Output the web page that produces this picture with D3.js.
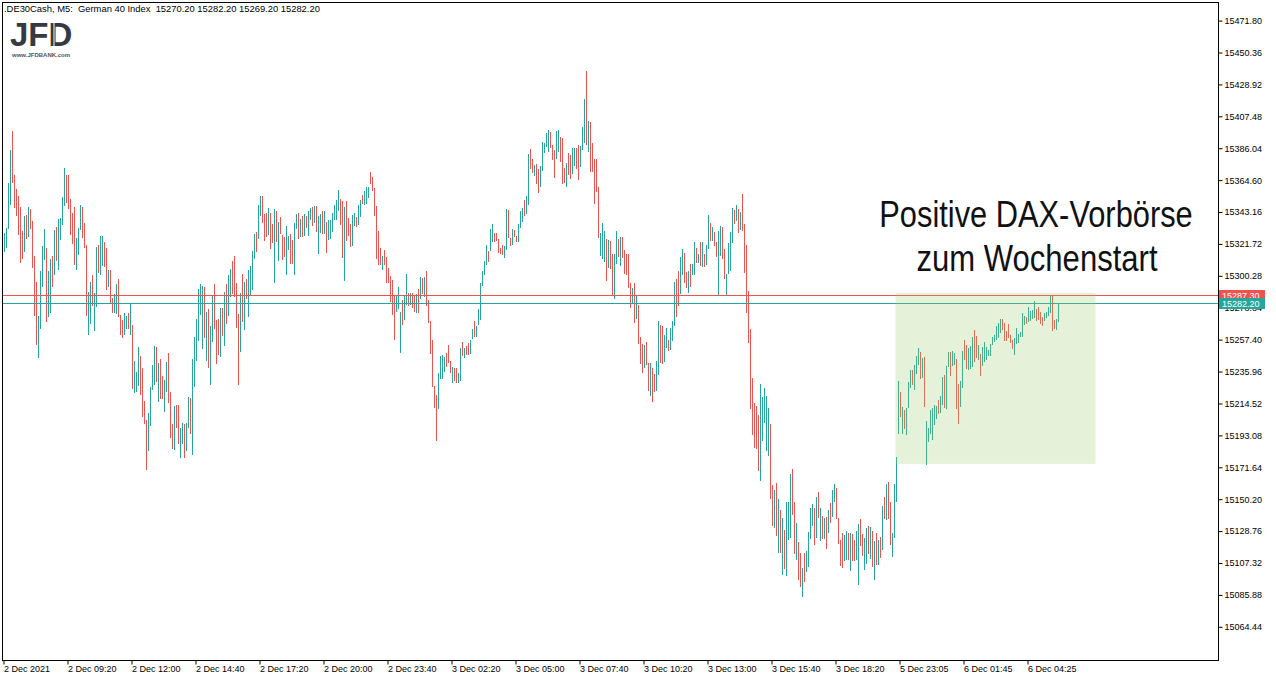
<!DOCTYPE html>
<html>
<head>
<meta charset="utf-8">
<script src="https://cdn.jsdelivr.net/npm/d3@7"></script>
<style>
    body { margin: 0; background: #fff; }
    svg { display: block; }
    text { font-family: "Liberation Sans", Arial, sans-serif; }
</style>
</head>
<body>
<svg id="chart"></svg>
<script>
// M5 bars, DE30Cash, 2 Dec 2021 - 6 Dec 2021 (high / low per bar)
var highs = [
    15329.1, 15332.4, 15362.9, 15384.8, 15397.6, 15368.0, 15358.6, 15353.9, 15346.5, 15330.6,
    15340.7, 15341.2, 15346.5, 15345.2, 15337.1, 15313.6, 15296.2, 15273.6, 15303.6, 15320.3,
    15332.0, 15319.0, 15303.6, 15311.8, 15313.6, 15331.1, 15333.1, 15338.5, 15339.2, 15353.3,
    15372.7, 15368.0, 15368.0, 15351.9, 15342.7, 15346.5, 15325.7, 15332.4, 15347.9, 15346.5,
    15335.8, 15320.8, 15289.4, 15296.2, 15300.9, 15288.6, 15319.7, 15320.8, 15327.1, 15327.1,
    15323.0, 15319.0, 15304.2, 15304.2, 15285.6, 15288.1, 15294.8, 15298.2, 15274.0, 15270.6,
    15275.3, 15273.3, 15275.6, 15282.1, 15267.3, 15243.3, 15235.7, 15252.5, 15246.5, 15238.6,
    15216.2, 15203.5, 15208.2, 15225.9, 15240.4, 15253.2, 15252.5, 15242.0, 15244.4, 15233.2,
    15230.6, 15242.4, 15248.5, 15222.3, 15201.0, 15213.1, 15213.5, 15213.8, 15198.1, 15201.7,
    15201.0, 15201.7, 15218.9, 15218.5, 15244.4, 15259.2, 15271.5, 15291.5, 15294.8, 15293.5,
    15292.8, 15276.2, 15278.0, 15266.6, 15287.0, 15294.8, 15270.4, 15271.3, 15278.7, 15278.7,
    15289.7, 15294.8, 15301.1, 15304.9, 15310.3, 15313.8, 15295.7, 15274.7, 15289.0, 15301.8,
    15296.4, 15298.2, 15304.4, 15307.1, 15317.0, 15328.4, 15329.5, 15347.9, 15353.9, 15353.9,
    15341.8, 15342.5, 15345.9, 15342.5, 15335.1, 15345.2, 15343.8, 15336.5, 15339.8, 15327.7,
    15326.4, 15334.0, 15327.3, 15328.4, 15324.4, 15335.8, 15341.8, 15342.5, 15338.5, 15340.5,
    15341.8, 15340.5, 15343.8, 15345.9, 15346.5, 15347.2, 15347.2, 15340.5, 15341.8, 15343.8,
    15343.8, 15336.5, 15337.8, 15337.8, 15342.5, 15347.9, 15351.2, 15358.0, 15351.9, 15350.6,
    15346.5, 15350.6, 15339.1, 15335.1, 15341.2, 15342.5, 15339.8, 15347.9, 15351.2, 15354.6,
    15357.3, 15360.0, 15360.0, 15370.0, 15366.7, 15359.3, 15347.2, 15330.4, 15319.2, 15313.6,
    15317.7, 15313.2, 15305.6, 15300.2, 15297.5, 15287.4, 15287.4, 15292.8, 15276.0, 15284.1,
    15287.4, 15301.5, 15288.8, 15288.8, 15288.8, 15287.4, 15288.1, 15291.5, 15299.5, 15299.1,
    15299.7, 15303.6, 15284.1, 15270.0, 15257.2, 15226.5, 15220.5, 15235.3, 15246.5, 15247.1,
    15245.8, 15248.5, 15253.8, 15243.1, 15239.1, 15238.6, 15238.6, 15235.3, 15251.8, 15255.9,
    15251.8, 15253.2, 15255.2, 15257.0, 15264.6, 15270.0, 15266.6, 15278.0, 15295.5, 15303.6,
    15310.3, 15321.0, 15317.2, 15332.0, 15335.1, 15329.3, 15329.3, 15325.0, 15319.0, 15321.2,
    15320.3, 15345.2, 15344.5, 15325.7, 15331.8, 15331.1, 15327.1, 15335.1, 15343.9, 15345.9,
    15351.2, 15353.9, 15382.4, 15385.5, 15378.8, 15374.7, 15375.4, 15372.3, 15374.3, 15390.4,
    15389.5, 15396.2, 15398.3, 15396.9, 15388.2, 15384.8, 15397.8, 15398.3, 15393.8, 15393.1,
    15373.0, 15376.3, 15383.0, 15381.5, 15386.2, 15386.4, 15386.4, 15388.4, 15387.3, 15400.5,
    15419.3, 15438.1, 15404.5, 15403.6, 15389.7, 15378.8, 15379.0, 15360.0, 15329.1, 15336.0,
    15330.4, 15325.3, 15324.1, 15323.9, 15315.0, 15315.0, 15330.6, 15325.3, 15326.6, 15326.2,
    15317.9, 15315.0, 15315.0, 15295.7, 15292.4, 15295.3, 15287.4, 15280.5, 15259.4, 15254.3,
    15253.6, 15255.9, 15242.0, 15242.0, 15238.4, 15234.6, 15243.1, 15270.0, 15267.5, 15266.8,
    15260.6, 15265.3, 15257.4, 15265.3, 15270.0, 15296.4, 15298.4, 15303.6, 15313.2, 15318.6,
    15315.4, 15303.1, 15303.8, 15308.3, 15308.5, 15323.3, 15319.2, 15315.0, 15323.3, 15322.8,
    15315.2, 15321.2, 15341.2, 15335.8, 15333.1, 15330.0, 15323.3, 15330.4, 15333.8, 15333.1,
    15318.3, 15301.8, 15322.4, 15329.7, 15345.9, 15344.7, 15347.9, 15345.2, 15343.2, 15355.3,
    15335.1, 15321.0, 15290.3, 15264.6, 15231.7, 15214.9, 15213.1, 15206.8, 15227.7, 15218.9,
    15225.0, 15219.8, 15211.5, 15200.8, 15159.8, 15156.7, 15161.2, 15150.6, 15143.0, 15137.4,
    15129.6, 15148.4, 15148.6, 15166.8, 15170.8, 15148.6, 15134.5, 15121.5, 15113.7, 15103.8,
    15114.1, 15115.7, 15128.2, 15144.6, 15147.1, 15144.1, 15151.8, 15155.3, 15144.1, 15139.0,
    15137.4, 15138.1, 15143.0, 15147.7, 15156.7, 15160.5, 15158.0, 15137.4, 15123.1, 15127.6,
    15126.2, 15128.9, 15127.3, 15127.8, 15126.9, 15123.1, 15128.5, 15133.4, 15137.2, 15126.9,
    15124.0, 15130.5, 15132.3, 15131.6, 15129.1, 15122.2, 15127.8, 15122.6, 15125.1, 15145.5,
    15151.8, 15160.5, 15161.8, 15148.2, 15127.6, 15160.5, 15178.8, 15229.7, 15222.3, 15212.2,
    15210.2, 15211.5, 15229.0, 15237.3, 15236.8, 15240.4, 15246.2, 15251.8, 15249.1, 15245.3,
    15245.6, 15202.4, 15198.1, 15210.2, 15211.5, 15213.5, 15212.9, 15216.9, 15219.6, 15232.4,
    15233.7, 15239.7, 15249.1, 15249.1, 15249.8, 15248.5, 15244.7, 15227.9, 15229.7, 15249.8,
    15257.2, 15253.8, 15251.8, 15253.2, 15259.2, 15263.9, 15260.1, 15253.8, 15248.0, 15252.7,
    15255.9, 15252.5, 15250.5, 15254.5, 15259.4, 15260.6, 15266.6, 15268.8, 15271.3, 15271.5,
    15268.6, 15263.2, 15268.2, 15260.8, 15257.2, 15258.5, 15265.3, 15261.2, 15262.4, 15275.3,
    15273.5, 15272.7, 15279.4, 15276.9, 15277.6, 15283.6, 15277.8, 15279.4, 15276.2, 15272.7,
    15275.6, 15276.2, 15279.4, 15286.8, 15287.2, 15270.9, 15271.1, 15282.2
];
var lows = [
    15316.5, 15319.2, 15332.0, 15348.1, 15362.9, 15346.1, 15340.7, 15327.7, 15309.2, 15311.8,
    15316.5, 15324.8, 15326.6, 15332.0, 15305.8, 15273.6, 15254.1, 15245.3, 15264.8, 15293.0,
    15310.9, 15269.5, 15272.9, 15275.1, 15293.0, 15300.9, 15310.5, 15304.4, 15324.6, 15334.7,
    15347.4, 15349.5, 15345.2, 15328.0, 15321.9, 15307.8, 15304.4, 15314.3, 15331.1, 15325.7,
    15319.0, 15273.6, 15260.8, 15268.2, 15280.3, 15263.5, 15279.6, 15302.0, 15300.9, 15307.1,
    15306.2, 15291.0, 15293.0, 15282.1, 15275.1, 15275.6, 15274.7, 15272.9, 15260.8, 15258.8,
    15260.8, 15264.6, 15264.8, 15260.8, 15224.5, 15221.8, 15222.5, 15226.5, 15220.5, 15205.7,
    15200.6, 15170.1, 15182.9, 15199.7, 15223.4, 15227.0, 15229.2, 15215.8, 15217.8, 15217.8,
    15209.1, 15222.5, 15215.1, 15191.6, 15184.2, 15183.5, 15197.7, 15187.6, 15178.2, 15187.1,
    15178.2, 15182.9, 15198.3, 15194.3, 15180.2, 15225.9, 15243.3, 15256.8, 15274.2, 15251.4,
    15258.8, 15243.3, 15238.6, 15227.2, 15256.1, 15264.8, 15241.3, 15247.4, 15246.0, 15260.1,
    15253.4, 15268.2, 15273.5, 15285.9, 15288.3, 15286.3, 15265.5, 15227.2, 15249.4, 15269.5,
    15264.1, 15285.0, 15272.9, 15287.4, 15291.0, 15311.8, 15316.5, 15324.8, 15340.7, 15336.0,
    15323.9, 15326.4, 15327.5, 15318.5, 15322.4, 15295.3, 15322.8, 15310.5, 15328.4, 15311.2,
    15313.2, 15301.1, 15317.9, 15308.5, 15308.5, 15301.1, 15332.0, 15324.8, 15326.4, 15326.4,
    15326.8, 15332.2, 15327.3, 15337.8, 15333.8, 15335.8, 15330.0, 15315.2, 15329.1, 15328.4,
    15328.4, 15315.9, 15324.6, 15325.3, 15330.0, 15337.8, 15337.8, 15343.8, 15334.7, 15312.5,
    15297.1, 15323.9, 15327.1, 15319.9, 15320.6, 15333.8, 15333.3, 15334.4, 15340.0, 15348.6,
    15347.9, 15348.6, 15352.6, 15362.0, 15357.3, 15340.5, 15311.8, 15307.8, 15307.8, 15304.4,
    15307.8, 15295.5, 15295.5, 15282.7, 15274.2, 15257.4, 15276.2, 15278.3, 15248.7, 15267.5,
    15270.9, 15280.9, 15280.3, 15280.9, 15278.9, 15275.8, 15275.6, 15275.6, 15284.7, 15288.1,
    15286.3, 15280.3, 15268.8, 15247.8, 15225.9, 15211.8, 15189.6, 15210.6, 15231.2, 15231.2,
    15235.9, 15239.3, 15242.0, 15235.3, 15228.5, 15229.9, 15228.5, 15228.5, 15229.9, 15246.5,
    15245.3, 15247.4, 15247.4, 15248.0, 15258.1, 15259.4, 15259.4, 15267.5, 15270.9, 15293.7,
    15300.6, 15307.8, 15309.8, 15317.2, 15323.0, 15322.8, 15323.7, 15315.9, 15314.7, 15314.1,
    15312.5, 15317.7, 15325.7, 15320.3, 15321.0, 15326.4, 15322.8, 15322.8, 15332.7, 15336.7,
    15340.3, 15341.8, 15347.9, 15372.3, 15369.6, 15367.6, 15362.2, 15355.9, 15360.2, 15370.9,
    15383.0, 15387.1, 15383.7, 15386.2, 15378.3, 15366.2, 15379.0, 15383.7, 15377.0, 15362.2,
    15362.9, 15360.0, 15367.8, 15365.3, 15368.9, 15374.3, 15372.3, 15364.9, 15373.2, 15385.0,
    15389.3, 15388.2, 15383.7, 15370.3, 15370.3, 15348.6, 15356.8, 15325.5, 15313.9, 15311.6,
    15309.8, 15297.1, 15305.3, 15304.9, 15287.4, 15285.0, 15308.0, 15313.2, 15307.1, 15312.1,
    15301.3, 15300.9, 15291.9, 15278.9, 15282.3, 15268.8, 15271.5, 15254.3, 15241.3, 15235.3,
    15238.4, 15240.4, 15223.2, 15219.8, 15215.8, 15222.5, 15223.2, 15233.5, 15242.0, 15241.3,
    15242.7, 15251.6, 15250.0, 15250.5, 15256.5, 15266.8, 15272.9, 15280.0, 15288.3, 15300.9,
    15295.3, 15291.9, 15288.8, 15292.6, 15300.9, 15300.9, 15309.1, 15309.1, 15307.1, 15306.2,
    15306.2, 15307.4, 15318.1, 15323.9, 15323.9, 15320.6, 15313.2, 15287.2, 15313.9, 15311.8,
    15298.4, 15287.4, 15301.5, 15303.8, 15322.6, 15335.3, 15337.1, 15329.3, 15331.3, 15330.6,
    15302.4, 15275.6, 15255.4, 15211.1, 15193.6, 15184.7, 15184.0, 15168.8, 15162.7, 15189.6,
    15201.7, 15182.9, 15179.1, 15150.2, 15132.5, 15130.5, 15125.3, 15113.9, 15114.1, 15099.4,
    15103.4, 15098.7, 15122.6, 15124.0, 15139.4, 15113.2, 15109.0, 15095.6, 15090.9, 15084.8,
    15094.4, 15101.6, 15104.7, 15123.5, 15132.5, 15119.1, 15124.4, 15137.4, 15121.8, 15123.5,
    15123.5, 15116.8, 15127.3, 15134.5, 15137.9, 15148.6, 15136.8, 15120.4, 15105.2, 15103.8,
    15108.8, 15109.4, 15109.3, 15102.1, 15108.8, 15108.8, 15109.4, 15092.6, 15118.6, 15112.3,
    15102.7, 15106.8, 15113.2, 15110.3, 15104.5, 15096.0, 15106.1, 15106.1, 15110.6, 15116.2,
    15136.8, 15136.1, 15136.8, 15119.7, 15111.5, 15124.0, 15148.6, 15194.1, 15205.5, 15194.3,
    15197.4, 15193.6, 15211.5, 15225.0, 15227.0, 15223.6, 15234.1, 15240.4, 15231.0, 15231.5,
    15212.2, 15173.2, 15188.9, 15194.1, 15190.3, 15199.9, 15204.4, 15207.7, 15207.9, 15213.5,
    15211.3, 15211.1, 15239.3, 15233.2, 15239.5, 15240.4, 15211.1, 15201.0, 15212.4, 15224.7,
    15243.8, 15237.7, 15237.3, 15237.7, 15239.1, 15242.7, 15244.9, 15243.8, 15233.2, 15239.5,
    15242.7, 15244.0, 15246.2, 15246.5, 15253.8, 15255.6, 15257.0, 15258.3, 15261.7, 15263.9,
    15256.8, 15256.8, 15258.3, 15255.2, 15251.2, 15247.1, 15254.3, 15255.2, 15259.2, 15259.2,
    15267.5, 15268.2, 15269.5, 15270.2, 15271.3, 15272.0, 15270.2, 15270.6, 15268.2, 15266.4,
    15270.0, 15271.8, 15273.3, 15275.1, 15263.5, 15264.6, 15263.9, 15269.2
];
// u = bullish bar, d = bearish bar (10 bars per chunk)
var updown = [
    "uuuudddddd", "ududddduuu", "uduududuuu", "uddddduuud", "dduuduuduu",
    "ddudduuddd", "uududuuudd", "dduuuududd", "uudddudduu", "duuduuuuuu",
    "duduudddud", "uduuddddud", "uduuuuduud", "dduddududd", "duudduudud",
    "uduududuud", "uduuuuuudd", "uddduuduud", "uuuddddddu", "dddddduuud",
    "uududdudud", "udddddduuu", "udddudduud", "udduuduuuu", "uuduuddddd",
    "uuddudduuu", "duuddudduu", "uuuddduudd", "dudduudduu", "ududdddduu",
    "ududduudud", "ddddududdd", "uddudduudd", "uuduuudduu", "dduduududu",
    "duududduud", "duuuududud", "dddddddduu", "uuuddududu", "duuudduddu",
    "duuuududud", "ududuudddd", "uududduudd", "uududududu", "dudduuuudu",
    "duuuduuudu", "duuuuuuduu", "duuduudduu", "dduuuddudu", "uuuuuuuuud",
    "ddddduuuuu", "uduuuudddd", "uuuudduu"
].join("");

var timeLabels = ["2 Dec 2021", "2 Dec 09:20", "2 Dec 12:00", "2 Dec 14:40", "2 Dec 17:20",
    "2 Dec 20:00", "2 Dec 23:40", "3 Dec 02:20", "3 Dec 05:00", "3 Dec 07:40", "3 Dec 10:20",
    "3 Dec 13:00", "3 Dec 15:40", "3 Dec 18:20", "5 Dec 23:05", "6 Dec 01:45", "6 Dec 04:25"];
var barsPerLabel = 32;

var priceTicks = [15471.80, 15450.36, 15428.92, 15407.48, 15386.04, 15364.60, 15343.16, 15321.72,
    15300.28, 15278.84, 15257.40, 15235.96, 15214.52, 15193.08, 15171.64, 15150.20, 15128.76,
    15107.32, 15085.88, 15064.44];

var askPrice = 15287.30,
    bidPrice = 15282.20;
var lastBar = [15270.20, 15282.20, 15269.20, 15282.20];   // O H L C

// highlighted pre-market zone (bar index range, price range)
var zone = {from: 445.5, to: 545.5, top: 15288.8, bottom: 15173.9};
var noteLines = ["Positive DAX-Vorbörse", "zum Wochenstart"];

var width = 1276,
    height = 681;
var plot = {left: 2, top: 2, right: 1218, bottom: 660};
var visibleBars = 607;
var upColor = "#26a69a",
    downColor = "#ef5350";

var svg = d3.select("#chart")
    .attr("width", width)
    .attr("height", height);

var xScale = d3.scaleLinear()
    .domain([0, visibleBars])
    .range([plot.left + 2.5, plot.left + 2.5 + 2 * visibleBars]);

var yScale = d3.scaleLinear()
    .domain([priceTicks[priceTicks.length - 1], priceTicks[0]])
    .range([626.8, 20.6]);

var bars = highs.map(function (h, i) {
    return {i: i, high: h, low: lows[i], up: updown.charAt(i) === "u"};
});

/** bars **/
svg.append("g")
    .attr("class", "bars")
    .selectAll(".bar")
    .data(bars)
    .enter()
    .append("rect")
    .attr("class", "bar")
    .attr("x", function (d) { return xScale(d.i) - 0.5; })
    .attr("width", 1)
    .attr("y", function (d) { return yScale(d.high); })
    .attr("height", function (d) { return Math.max(1, yScale(d.low) - yScale(d.high)); })
    .attr("shape-rendering", "crispEdges")
    .attr("fill", function (d) { return d.up ? upColor : downColor; });

/** ask / bid lines **/
svg.append("line")
    .attr("x1", plot.left).attr("x2", plot.right)
    .attr("y1", Math.round(yScale(askPrice)) + 0.5).attr("y2", Math.round(yScale(askPrice)) + 0.5)
    .attr("stroke", downColor).attr("stroke-width", 1);
svg.append("line")
    .attr("x1", plot.left).attr("x2", plot.right)
    .attr("y1", Math.round(yScale(bidPrice)) + 0.5).attr("y2", Math.round(yScale(bidPrice)) + 0.5)
    .attr("stroke", upColor).attr("stroke-width", 1);

/** zone **/
svg.append("rect")
    .attr("x", xScale(zone.from))
    .attr("y", yScale(zone.top))
    .attr("width", xScale(zone.to) - xScale(zone.from))
    .attr("height", yScale(zone.bottom) - yScale(zone.top))
    .attr("fill", "rgb(151,203,103)")
    .attr("fill-opacity", 0.25);

/** frame **/
svg.append("rect")
    .attr("x", plot.left + 0.5)
    .attr("y", plot.top + 0.5)
    .attr("width", plot.right - plot.left)
    .attr("height", plot.bottom - plot.top)
    .attr("fill", "none")
    .attr("stroke", "#000")
    .attr("stroke-width", 1);

/** Axis **/
var yAxis = svg.append("g")
    .attr("transform", "translate(" + (plot.right + 0.5) + ",0)")
    .call(d3.axisRight(yScale)
        .tickValues(priceTicks)
        .tickSize(4)
        .tickSizeOuter(0)
        .tickFormat(d3.format(".2f")));
yAxis.select(".domain").remove();
yAxis.selectAll("line").attr("stroke", "#000");
yAxis.selectAll("text")
    .attr("x", 6)
    .attr("fill", "#000")
    .style("font-size", "9px")
    .style("font-family", "\"Liberation Sans\", Arial, sans-serif");

var xAxis = svg.append("g")
    .attr("transform", "translate(-1," + (plot.bottom + 0.5) + ")")
    .call(d3.axisBottom(xScale)
        .tickValues(timeLabels.map(function (d, i) { return i * barsPerLabel; }))
        .tickSize(4)
        .tickSizeOuter(0)
        .tickFormat(function (d, i) { return timeLabels[i]; }));
xAxis.select(".domain").remove();
xAxis.selectAll("line").attr("stroke", "#000");
xAxis.selectAll("text")
    .attr("y", 5)
    .attr("x", 0)
    .style("text-anchor", "start")
    .attr("fill", "#000")
    .style("font-size", "9px")
    .style("font-family", "\"Liberation Sans\", Arial, sans-serif");

/** price tags **/
function priceTag(price, color) {
    var y = yScale(price);
    svg.append("rect")
        .attr("x", plot.right + 1)
        .attr("y", Math.round(y) - 5)
        .attr("width", 46)
        .attr("height", 11)
        .attr("fill", color);
    svg.append("text")
        .attr("x", plot.right + 4)
        .attr("y", Math.round(y) + 4)
        .attr("fill", "#fff")
        .style("font-size", "9px")
        .text(price.toFixed(2));
}
priceTag(askPrice, downColor);
priceTag(bidPrice, upColor);

/** header **/
svg.append("text")
    .attr("x", 4)
    .attr("y", 12)
    .style("font-size", "9.4px")
    .style("white-space", "pre")
    .attr("fill", "#000")
    .text(".DE30Cash, M5:  German 40 Index  " + lastBar.map(function (d) { return d.toFixed(2); }).join(" "));

/** logo **/
svg.append("text")
    .attr("x", 10)
    .attr("y", 46)
    .style("font-size", "33px")
    .style("font-weight", "bold")
    .attr("fill", "#353a40")
    .text("JFD");
svg.append("line")
    .attr("x1", 54).attr("x2", 54)
    .attr("y1", 23).attr("y2", 47)
    .attr("stroke", "#fff").attr("stroke-width", 1);
svg.append("text")
    .attr("x", 12)
    .attr("y", 57)
    .style("font-size", "6px")
    .style("font-weight", "bold")
    .attr("fill", "#555")
    .text("www.JFDBANK.com");

/** annotation (narrow type: regular face squeezed horizontally) **/
var note = svg.append("g")
    .attr("class", "note");
note.append("text")
    .attr("transform", "translate(1036,227) scale(0.833,1)")
    .attr("text-anchor", "middle")
    .style("font-size", "37px")
    .attr("fill", "#111")
    .text(noteLines[0]);
note.append("text")
    .attr("transform", "translate(1037,271) scale(0.84,1)")
    .attr("text-anchor", "middle")
    .style("font-size", "37px")
    .attr("fill", "#111")
    .text(noteLines[1]);
</script>
</body>
</html>
